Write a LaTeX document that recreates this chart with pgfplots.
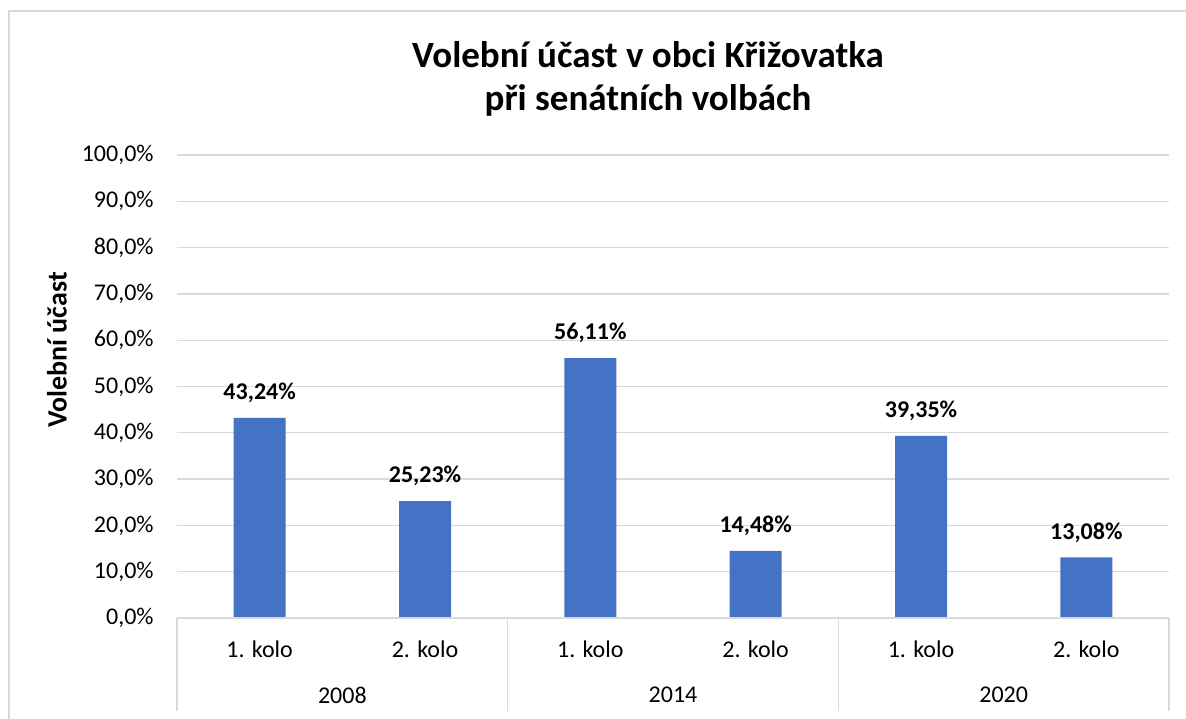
\documentclass[border=0pt]{standalone}
\usepackage{pgfplots}
\pgfplotsset{compat=1.18}
\usepackage{fontspec}
\setmainfont{Carlito}
\definecolor{barblue}{HTML}{4472C4}
\definecolor{gridgray}{HTML}{D9D9D9}
\begin{document}
\begin{tikzpicture}
\useasboundingbox (0pt,0pt) rectangle (593pt,359pt);
\draw[gridgray, line width=0.75pt] (4.5pt,-10pt) -- (4.5pt,353.5pt) -- (610pt,353.5pt);
\node[align=center, font=\fontsize{18.5}{21.5}\selectfont\bfseries] at (324pt,319.75pt) {Volební účast v obci Křižovatka\\při senátních volbách};
\node[rotate=90, font=\fontsize{14}{16}\selectfont\bfseries] at (28.5pt,184pt) {Volební účast};
\begin{axis}[
  at={(88.5pt,50pt)}, anchor=south west,
  scale only axis, width=496pt, height=231.5pt,
  xmin=-0.5, xmax=5.5, ymin=0, ymax=100,
  ytick={0,10,...,100},
  xtick={0,1,2,3,4,5},
  xticklabels={1. kolo,2. kolo,1. kolo,2. kolo,1. kolo,2. kolo},
  major tick length=0pt,
  axis line style={draw=none},
  ymajorgrids, major grid style={gridgray, line width=0.65pt},
  /pgf/number format/assume math mode=true,
  yticklabel={\pgfmathprintnumber[fixed,fixed zerofill,precision=1,use comma]{\tick}\%},
  tick label style={font=\fontsize{12}{14}\selectfont},
  yticklabel style={inner sep=0pt, xshift=-11.5pt},
  xticklabel style={anchor=center, inner sep=0pt, yshift=-15.5pt},
  clip=false,
  ybar, bar width=26pt,
  nodes near coords={\pgfmathprintnumber[fixed,fixed zerofill,precision=2,use comma]{\pgfplotspointmeta}\%},
  nodes near coords style={font=\fontsize{12}{14}\selectfont\bfseries, anchor=center, yshift=12.5pt, /pgf/number format/assume math mode=true},
]
\addplot[fill=barblue, draw=none] coordinates {(0,43.24) (1,25.23) (2,56.11) (3,14.48) (4,39.35) (5,13.08)};
\draw[gridgray, line width=0.75pt] (axis cs:-0.5,0) -- (axis cs:5.5,0);
\pgfplotsinvokeforeach{-0.5,1.5,3.5,5.5}{
  \draw[gridgray, line width=0.75pt] (axis cs:#1,0) -- ([yshift=-46.5pt]axis cs:#1,0);
}
\node[font=\fontsize{12}{14}\selectfont, yshift=-38.5pt] at (axis cs:0.5,0) {2008};
\node[font=\fontsize{12}{14}\selectfont, yshift=-38.5pt] at (axis cs:2.5,0) {2014};
\node[font=\fontsize{12}{14}\selectfont, yshift=-38.5pt] at (axis cs:4.5,0) {2020};
\end{axis}
\end{tikzpicture}
\end{document}
